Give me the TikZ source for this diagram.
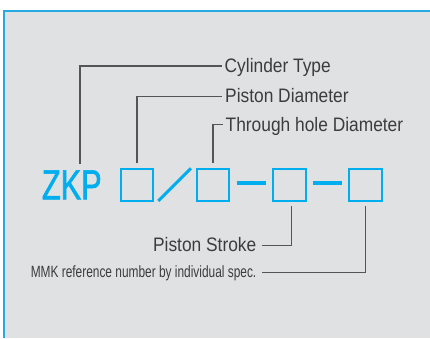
\documentclass[tikz,border=0pt]{standalone}
\usepackage{fontspec}
\setmainfont{Liberation Sans}
\newfontfamily\labfont[FakeStretch=0.89]{Liberation Sans}
\newfontfamily\mmkfont[FakeStretch=0.73]{Liberation Sans}
\newfontfamily\zkpfont[FakeStretch=0.73,FakeBold=1.5]{Liberation Sans}
\definecolor{bgray}{RGB}{224,225,227}
\definecolor{frameblue}{RGB}{39,170,225}
\definecolor{codecyan}{RGB}{0,174,239}
\definecolor{txtgray}{RGB}{60,60,60}
\definecolor{lngray}{RGB}{85,85,85}
\begin{document}
\begin{tikzpicture}[x=1pt,y=-1pt,
  lab/.style={inner sep=0pt,text=txtgray,font=\labfont\fontsize{19.5}{20}\selectfont},
  mmk/.style={inner sep=0pt,text=txtgray,font=\mmkfont\fontsize{16.3}{17}\selectfont},
  codebox/.style={draw=codecyan,line width=2pt,minimum width=32.6pt,minimum height=31.7pt,inner sep=0pt},
  conn/.style={draw=lngray,line width=1.1pt},
  codeline/.style={draw=codecyan,line cap=butt}]
\useasboundingbox (0,0) rectangle (430,338);
\fill[white] (0,0) rectangle (430,338);
\fill[bgray] (4.3,11.2) rectangle (429.6,338);
\draw[frameblue,line width=2pt] (4.3,338) -- (4.3,11.2) -- (430,11.2);
% code row
\node[anchor=base west,inner sep=0pt,text=codecyan,font=\zkpfont\fontsize{42}{42}\selectfont] (zkp) at (41.8,199.3) {ZKP};
\node[codebox] (b1) at (137,185.2) {};
\node[codebox] (b2) at (213,185.2) {};
\node[codebox] (b3) at (289.7,185.2) {};
\node[codebox] (b4) at (365.7,185.2) {};
\draw[codeline,line width=3pt] (158.3,201) -- (191,168.3);
\draw[codeline,line width=4pt] ([xshift=6.4pt,yshift=1.9pt]b2.east) -- ([xshift=-6pt,yshift=1.9pt]b3.west);
\draw[codeline,line width=4pt] ([xshift=6.4pt,yshift=1.9pt]b3.east) -- ([xshift=-6pt,yshift=1.9pt]b4.west);
% labels
\node[lab,anchor=base west] (lc) at (224.5,72.7) {Cylinder Type};
\node[lab,anchor=base west] (lp) at (225,102) {Piston Diameter};
\node[lab,anchor=base west] (lt) at (225.5,131) {Through hole Diameter};
\node[lab,anchor=base east] (ls) at (256.5,251.7) {Piston Stroke};
\node[mmk,anchor=base east] (lm) at (256.5,277) {MMK reference number by individual spec.};
\coordinate (cz) at (80,164);
\draw[conn] (cz) |- ([xshift=-3pt,yshift=6.7pt]lc.base west);
\draw[conn] ([yshift=5.3pt]b1.north) |- ([xshift=-3pt,yshift=5.5pt]lp.base west);
\draw[conn] ([yshift=5.3pt]b2.north) |- ([xshift=-3pt,yshift=6.5pt]lt.base west);
\draw[conn] ([xshift=2pt,yshift=-4pt]b3.south) |- ([xshift=5.2pt,yshift=6pt]ls.base east);
\draw[conn] ([yshift=-4pt]b4.south) |- ([xshift=5.2pt,yshift=4.3pt]lm.base east);
\end{tikzpicture}
\end{document}
